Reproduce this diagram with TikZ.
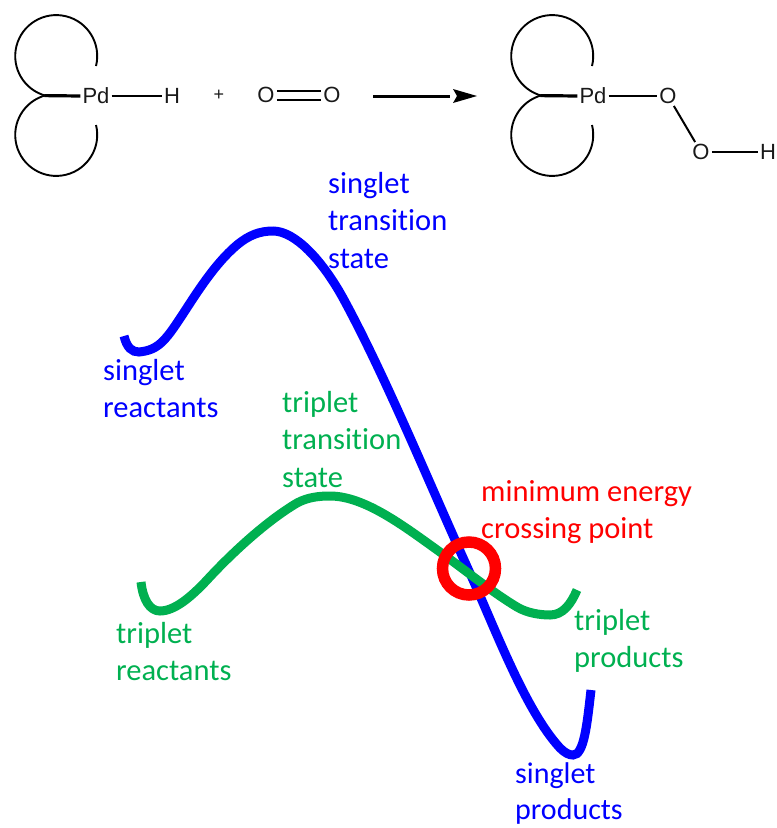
\documentclass[tikz,border=0pt]{standalone}
\usepackage{fontspec}
\setmainfont{Liberation Sans}
\newfontfamily\lab[Ligatures=NoCommon]{Carlito}
\definecolor{tripgreen}{RGB}{0,176,80}
\begin{document}
\begin{tikzpicture}[x=1pt,y=-1pt,
  chem/.style={font=\fontsize{22}{26}\selectfont,inner sep=2pt,text=black!90},
  bond/.style={draw=black,line width=2pt},
  ring/.style={draw=black,line width=1.9pt},
  thick bond/.style={draw=black,line width=3.2pt},
  lbl/.style={font=\lab\fontsize{30.5}{37.5}\selectfont,align=left,anchor=north west,inner sep=0pt},
  curve/.style={line width=9pt}]
\useasboundingbox (0,0) rectangle (777,828);
% left complex
\node[chem] (pd1) at (96,96) {Pd};
\node[chem] (h1) at (172,96) {H};
\node[chem] (plus) at (219,95) {\fontsize{18}{20}\selectfont +};
\node[chem] (o1) at (266,95) {O};
\node[chem] (o2) at (332,95) {O};
\coordinate (j1) at (44.4,95.6);
\draw[ring] (96,66) arc[start angle=14,end angle=-255,radius=41];
\draw[ring] (96,125) arc[start angle=-14,end angle=255,radius=41];
\draw[thick bond] (j1) -- (pd1.west);
\draw[bond] (pd1) -- (h1);
\draw[bond,transform canvas={yshift=4.5pt}] (o1) -- (o2);
\draw[bond,transform canvas={yshift=-4.5pt}] (o1) -- (o2);
% arrow
\coordinate (a1) at (373,96);
\coordinate (a2) at (477,96);
\draw[line width=3pt] (a1) -- (450,96);
\fill (a2) -- (453,89) -- (457,96) -- (453,103) -- cycle;
% right complex
\node[chem] (pd2) at (593,96) {Pd};
\node[chem] (o3) at (668,96) {O};
\node[chem] (o4) at (701,152) {O};
\node[chem] (h2) at (768,152) {H};
\coordinate (j2) at (540.4,95.6);
\draw[ring] (592,66) arc[start angle=14,end angle=-255,radius=41];
\draw[ring] (592,125) arc[start angle=-14,end angle=255,radius=41];
\draw[thick bond] (j2) -- (pd2.west);
\draw[bond] (pd2) -- (o3);
\draw[bond] (o3) -- (o4);
\draw[bond] (o4) -- (h2);
% curves
\draw[curve,blue] (124,336) .. controls (127,348) and (132,352) .. (139,352)
  .. controls (148,351) and (156,349) .. (165,339)
  .. controls (182,320) and (205,272) .. (237,245)
  .. controls (249,235) and (260,231) .. (273,231)
  .. controls (295,231) and (322,260) .. (343,298)
  .. controls (385,375) and (430,485) .. (469,571)
  .. controls (495,628) and (525,710) .. (560,748)
  .. controls (565,753) and (569,755) .. (573,755)
  .. controls (584,755) and (587,725) .. (591,690);
\draw[curve,tripgreen] (141,582) .. controls (143,600) and (150,611) .. (160,611)
  .. controls (175,611) and (192,596) .. (207,580)
  .. controls (230,555) and (265,522) .. (297,503)
  .. controls (308,497) and (320,496) .. (330,496)
  .. controls (365,496) and (405,527) .. (440,552)
  .. controls (465,570) and (492,592) .. (517,607)
  .. controls (527,613) and (540,615) .. (550,615)
  .. controls (563,615) and (571,604) .. (577,590);
\draw[red,line width=11.5pt] (469,568.5) circle[radius=26.5];
% labels
\node[lbl,blue] (l1) at (328,172) {singlet\\transition\\state};
\node[lbl,blue] (l2) at (103,359) {singlet\\reactants};
\node[lbl,tripgreen] (l3) at (282,391) {triplet\\transition\\state};
\node[lbl,red] (l4) at (481,480) {minimum energy\\crossing point};
\node[lbl,tripgreen] (l5) at (116,622) {triplet\\reactants};
\node[lbl,tripgreen] (l6) at (574,609) {triplet\\products};
\node[lbl,blue,font=\lab\fontsize{30}{36.5}\selectfont] (l7) at (515,762) {singlet\\products};
\end{tikzpicture}
\end{document}
